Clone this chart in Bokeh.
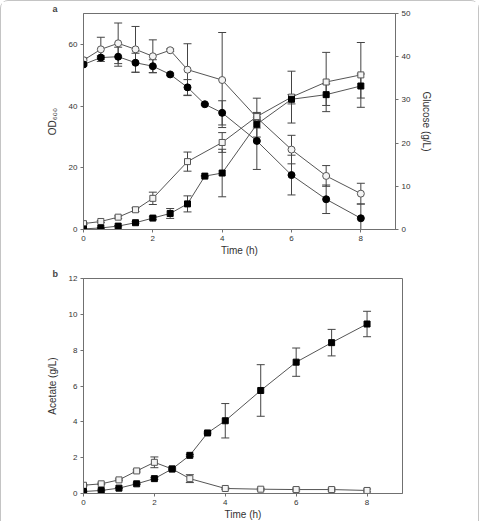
import numpy as np
from bokeh.plotting import figure
from bokeh.models import (ColumnDataSource, Range1d, LinearAxis, FixedTicker,
                          Whisker, TeeHead, Title)
from bokeh.layouts import column
from bokeh.embed import file_html
from bokeh.resources import INLINE

# ---------------- Panel a ----------------
# OD600 (left axis) - open squares
od_open_t = [0, 0.5, 1, 1.5, 2, 3, 4, 5, 6, 7, 8]
od_open = [1.9, 2.6, 4.0, 6.4, 10.1, 22.0, 28.2, 36.6, 42.9, 47.8, 50.1]
od_open_err = [0.3, 0.3, 0.4, 0.6, 2.0, 3.1, 3.2, 1.0, 8.4, 9.6, 10.5]
# OD600 (left axis) - filled squares
od_fill_t = [0, 0.5, 1, 1.5, 2, 2.5, 3, 3.5, 4, 5, 6, 7, 8]
od_fill = [0.2, 0.5, 1.1, 2.2, 3.7, 5.2, 8.3, 17.3, 18.3, 34.1, 42.2, 43.7, 46.5]
od_fill_err = [0.1, 0.1, 0.2, 0.3, 0.4, 1.6, 2.6, 0.2, 7.7, 1.2, 1.5, 3.5, 3.9]
# Glucose (right axis) - open circles
glu_open_t = [0, 0.5, 1, 1.5, 2, 2.5, 3, 4, 5, 6, 7, 8]
glu_open = [39.2, 41.7, 43.1, 41.7, 40.1, 41.5, 37.0, 34.6, 25.9, 18.5, 12.4, 8.3]
glu_open_err = [0.5, 2.8, 4.7, 5.3, 3.8, 0.3, 6.0, 11.0, 4.5, 3.3, 2.4, 2.4]
# Glucose (right axis) - filled circles
glu_fill_t = [0, 0.5, 1, 1.5, 2, 2.5, 3, 3.5, 4, 5, 6, 7, 8]
glu_fill = [38.2, 39.8, 40.0, 38.6, 37.8, 35.9, 32.9, 29.0, 27.0, 20.5, 12.6, 7.0, 2.6]
glu_fill_err = [0.3, 0.4, 2.2, 2.2, 1.5, 0.3, 1.8, 0.2, 2.8, 6.6, 4.6, 3.3, 3.3]

# ---------------- Panel b ----------------
ace_fill_t = [0, 0.5, 1, 1.5, 2, 2.5, 3, 3.5, 4, 5, 6, 7, 8]
ace_fill = [0.11, 0.17, 0.30, 0.54, 0.83, 1.37, 2.13, 3.38, 4.06, 5.75, 7.33, 8.42, 9.46]
ace_fill_err = [0.02, 0.02, 0.03, 0.04, 0.05, 0.05, 0.05, 0.05, 0.96, 1.44, 0.79, 0.74, 0.71]
ace_open_t = [0, 0.5, 1, 1.5, 2, 2.5, 3, 4, 5, 6, 7, 8]
ace_open = [0.46, 0.54, 0.76, 1.26, 1.74, 1.37, 0.83, 0.28, 0.24, 0.22, 0.22, 0.17]
ace_open_err = [0.04, 0.04, 0.05, 0.06, 0.30, 0.05, 0.22, 0.04, 0.05, 0.08, 0.08, 0.08]

x_ticks = [0, 2, 4, 6, 8]
od_ticks = [0, 20, 40, 60]
glu_ticks = [0, 10, 20, 30, 40, 50]
ace_ticks = [0, 2, 4, 6, 8, 10, 12]

FONT = "Liberation Sans"
AX = "#707070"
LINE = "#555555"


def style_axis(ax, ticks):
    ax.ticker = FixedTicker(ticks=ticks)
    ax.minor_tick_line_color = None
    ax.major_tick_out = 3
    ax.major_tick_in = 0
    ax.axis_line_color = AX
    ax.major_tick_line_color = AX
    ax.major_label_text_font = FONT
    ax.major_label_text_font_size = "8px"
    ax.major_label_text_color = "#333333"
    ax.major_label_standoff = 3
    ax.axis_label_text_font = FONT
    ax.axis_label_text_font_size = "10px"
    ax.axis_label_text_font_style = "normal"
    ax.axis_label_text_color = "#333333"
    ax.axis_label_standoff = 8


def add_series(p, t, y, err, filled, marker, size, y_range_name="default"):
    src = ColumnDataSource(dict(t=t, y=y,
                                lo=[a - b for a, b in zip(y, err)],
                                up=[a + b for a, b in zip(y, err)]))
    w = Whisker(source=src, base="t", lower="lo", upper="up", dimension="height",
                line_color="#444444", line_width=1,
                upper_head=TeeHead(size=8, line_color="#444444", line_width=1),
                lower_head=TeeHead(size=8, line_color="#444444", line_width=1),
                y_range_name=y_range_name)
    p.add_layout(w)
    p.line("t", "y", source=src, line_color=LINE, line_width=1, y_range_name=y_range_name)
    if filled:
        p.scatter("t", "y", source=src, marker=marker, size=size, fill_color="black",
                  line_color="black", y_range_name=y_range_name)
    else:
        p.scatter("t", "y", source=src, marker=marker, size=size, fill_color="#f4f4f4",
                  line_color="#555555", line_width=1, y_range_name=y_range_name)


def panel_letter(p, letter):
    p.add_layout(Title(text=letter, align="left", offset=-31, standoff=0,
                       text_font=FONT, text_font_size="9px", text_font_style="bold",
                       text_line_height=0.7, vertical_align="bottom"), "above")


# ---- top figure ----
p1 = figure(frame_width=312, frame_height=216, min_border_left=82, min_border_right=83,
            min_border_top=10, min_border_bottom=37, x_range=Range1d(0, 9),
            y_range=Range1d(0, 70), output_backend="svg", toolbar_location=None)
p1.extra_y_ranges = {"glu": Range1d(0, 50)}
p1.xgrid.visible = False
p1.ygrid.visible = False
p1.outline_line_color = AX
p1.xaxis.axis_label = "Time (h)"
p1.yaxis.axis_label = "OD₆₀₀"
style_axis(p1.xaxis[0], x_ticks)
style_axis(p1.yaxis[0], od_ticks)
p1.xaxis[0].axis_label_standoff = 1
ax_r = LinearAxis(y_range_name="glu", axis_label="Glucose (g/L)")
style_axis(ax_r, glu_ticks)
p1.add_layout(ax_r, "right")

add_series(p1, glu_open_t, glu_open, glu_open_err, False, "circle", 7, "glu")
add_series(p1, glu_fill_t, glu_fill, glu_fill_err, True, "circle", 7, "glu")
add_series(p1, od_open_t, od_open, od_open_err, False, "square", 6)
add_series(p1, od_fill_t, od_fill, od_fill_err, True, "square", 6)
panel_letter(p1, "a")

# ---- bottom figure ----
p2 = figure(frame_width=319, frame_height=215, min_border_left=80, min_border_right=78,
            min_border_top=10, min_border_bottom=40, x_range=Range1d(0, 9),
            y_range=Range1d(0, 12), output_backend="svg", toolbar_location=None)
p2.xgrid.visible = False
p2.ygrid.visible = False
p2.outline_line_color = AX
p2.xaxis.axis_label = "Time (h)"
p2.yaxis.axis_label = "Acetate (g/L)"
style_axis(p2.xaxis[0], x_ticks)
style_axis(p2.yaxis[0], ace_ticks)
p2.xaxis[0].axis_label_standoff = 1

add_series(p2, ace_open_t, ace_open, ace_open_err, False, "square", 6)
add_series(p2, ace_fill_t, ace_fill, ace_fill_err, True, "square", 6)
panel_letter(p2, "b")

layout = column(p1, p2, spacing=0,
                styles={"border": "1px solid #c4c4c4", "border-radius": "8px"})
open("out.html", "w").write(file_html(layout, INLINE))
